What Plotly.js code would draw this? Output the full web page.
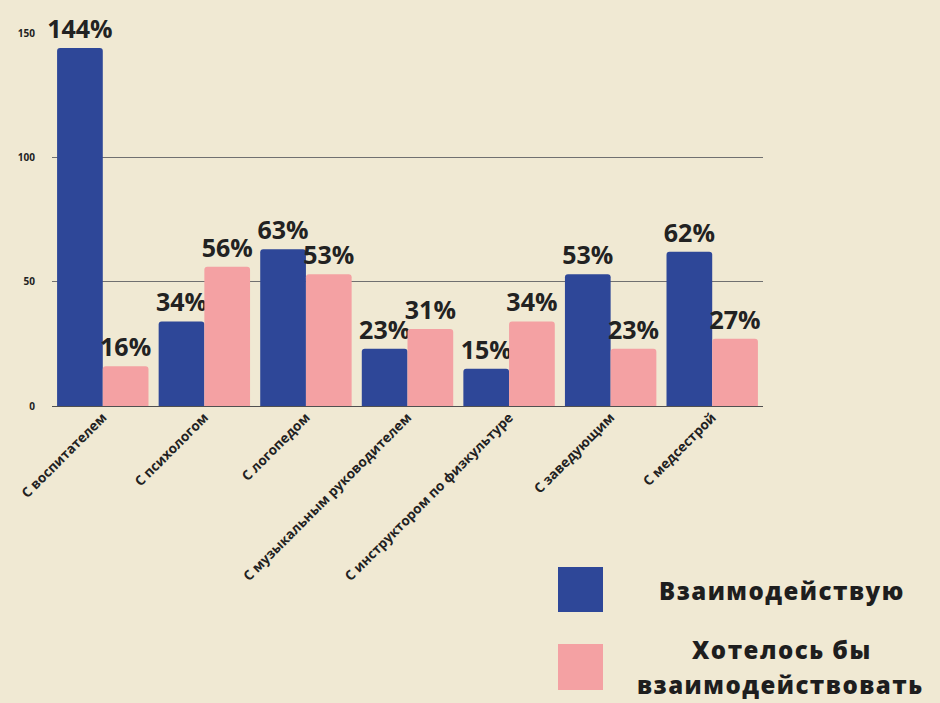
<!DOCTYPE html>
<html>
<head>
<meta charset="utf-8">
<script src="https://cdn.plot.ly/plotly-3.0.1.min.js"></script>
<style>
html,body{margin:0;padding:0;background:#f0e9d3;}
#chart{width:940px;height:703px;}
.textpoint text{letter-spacing:1px;}
.annotation-text{letter-spacing:1.5px;}
</style>
</head>
<body>
<div id="chart"></div>
<script>
var categories = ["С воспитателем", "С психологом", "С логопедом", "С музыкальным руководителем", "С инструктором по физкультуре", "С заведующим", "С медсестрой"];
var seriesNames = ["Взаимодействую", "Хотелось бы<br>взаимодействовать"];
var interact = [144, 34, 63, 23, 15, 53, 62];
var wish = [16, 56, 53, 31, 34, 23, 27];
var yTicks = [0, 50, 100, 150];

var blue = "#2e4798";
var pink = "#f4a1a3";
var labelFont = {family: "Open Sans, sans-serif", size: 25, color: "#222222", weight: 700};

function pct(v){ return v.map(function(x){ return x + "%"; }); }

var traces = [
  {type: "bar", name: seriesNames[0], x: categories, y: interact, text: pct(interact),
   textposition: "outside", constraintext: "none", textfont: labelFont, marker: {color: blue}, cliponaxis: false, hoverinfo: "none"},
  {type: "bar", name: seriesNames[1], x: categories, y: wish, text: pct(wish),
   textposition: "outside", constraintext: "none", textfont: labelFont, marker: {color: pink}, cliponaxis: false, hoverinfo: "none"}
];

var L = 52, R = 763, T = 33, B = 406;
function px(x){ return (x - L) / (R - L); }
function py(y){ return (B - y) / (B - T); }

var legFont = {family: "Open Sans, sans-serif", size: 24, color: "#1e1e1e", weight: 800};
var lines2 = seriesNames[1].split("<br>");

var layout = {
  width: 940, height: 703,
  paper_bgcolor: "#f0e9d3", plot_bgcolor: "#f0e9d3",
  margin: {l: L, r: 940 - R, t: T, b: 703 - B, pad: 0},
  barmode: "group", bargap: 0.1, bargroupgap: 0, barcornerradius: 3,
  showlegend: false,
  xaxis: {
    tickangle: -45, showgrid: false, showline: false, zeroline: false, ticks: "",
    tickfont: {family: "Open Sans, sans-serif", size: 13.5, color: "#222222", weight: 700}
  },
  yaxis: {
    range: [0, 150], tickvals: yTicks, ticktext: yTicks.map(String),
    showgrid: true, gridcolor: "#707070", gridwidth: 1,
    zeroline: true, zerolinecolor: "#505050", zerolinewidth: 1,
    showline: false, ticks: "", ticklabelstandoff: 16,
    tickfont: {family: "Open Sans, sans-serif", size: 10, color: "#222222", weight: 700}
  },
  shapes: [
    {type: "rect", xref: "paper", yref: "paper", x0: px(558), x1: px(603), y0: py(612), y1: py(567),
     fillcolor: blue, line: {width: 0}},
    {type: "rect", xref: "paper", yref: "paper", x0: px(558), x1: px(603), y0: py(690), y1: py(644),
     fillcolor: pink, line: {width: 0}}
  ],
  annotations: [
    {xref: "paper", yref: "paper", x: px(782), y: py(590), text: seriesNames[0], showarrow: false,
     xanchor: "center", yanchor: "middle", font: legFont},
    {xref: "paper", yref: "paper", x: px(782), y: py(649), text: lines2[0], showarrow: false,
     xanchor: "center", yanchor: "middle", font: legFont},
    {xref: "paper", yref: "paper", x: px(781), y: py(684), text: lines2[1], showarrow: false,
     xanchor: "center", yanchor: "middle", font: legFont}
  ]
};

Plotly.newPlot("chart", traces, layout, {displayModeBar: false, staticPlot: true});
</script>
</body>
</html>
